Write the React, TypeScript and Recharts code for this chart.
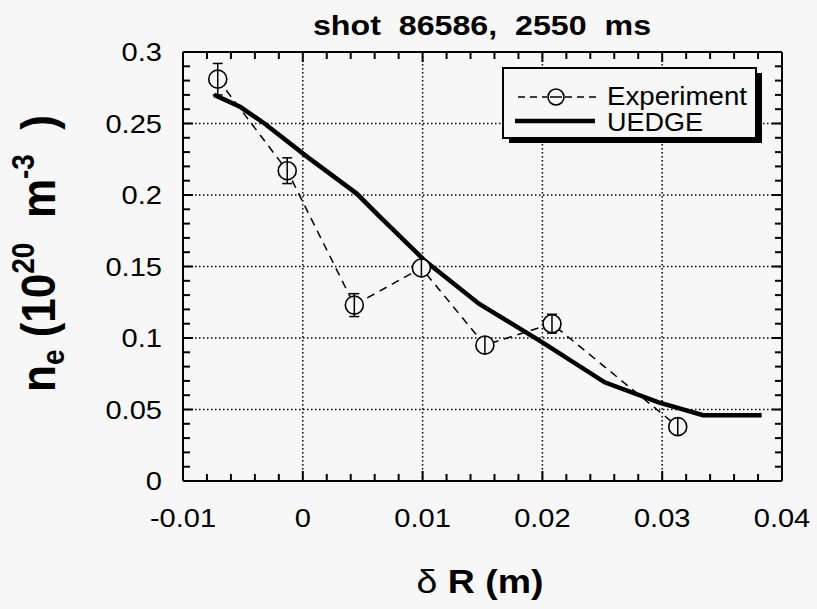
import React from 'react';
import {
  CartesianGrid,
  ErrorBar,
  Legend,
  Line,
  LineChart,
  XAxis,
  YAxis,
} from 'recharts';

const FONT = '"Liberation Sans", Arial, Helvetica, sans-serif';
const BG = '#f7f7f7';
const INK = '#000';

// Experiment (Thomson) points, with error bars
const EXP_X = [-0.0071, -0.0013, 0.0043, 0.0099, 0.0152, 0.0208, 0.0313];
const EXP_Y = [0.281, 0.217, 0.123, 0.149, 0.095, 0.11, 0.038];
const EXP_ERR = [0.011, 0.009, 0.008, 0.005, 0.005, 0.0066, 0.005];

// UEDGE profile
const UEDGE_X = [-0.0074, -0.0052, -0.0032, 0.0004, 0.0045, 0.0064, 0.0102, 0.0147, 0.02, 0.0252, 0.0297, 0.0334, 0.0383];
const UEDGE_Y = [0.27, 0.2615, 0.25, 0.2265, 0.201, 0.185, 0.154, 0.124, 0.097, 0.069, 0.055, 0.046, 0.046];

const SERIES = ['Experiment', 'UEDGE'];

const X_DOMAIN = [-0.01, 0.04];
const Y_DOMAIN = [0, 0.3];
const X_MAJOR = [-0.01, 0, 0.01, 0.02, 0.03, 0.04];
const Y_MAJOR = [0, 0.05, 0.1, 0.15, 0.2, 0.25, 0.3];
const X_STEP = 0.002;
const Y_STEP = 0.01;

const expData = EXP_X.map((x, i) => ({ x, y: EXP_Y[i], err: EXP_ERR[i] }));
const uedgeData = UEDGE_X.map((x, i) => ({ x, y: UEDGE_Y[i] }));

function steps(lo: number, hi: number, step: number) {
  const out: number[] = [];
  const n = Math.round((hi - lo) / step);
  for (let i = 0; i <= n; i++) out.push(Number((lo + i * step).toFixed(4)));
  return out;
}

const X_TICKS = steps(X_DOMAIN[0], X_DOMAIN[1], X_STEP);
const Y_TICKS = steps(Y_DOMAIN[0], Y_DOMAIN[1], Y_STEP);

const isMajor = (v: number, list: number[]) => list.some((m) => Math.abs(m - v) < 1e-7);

const MAJOR_LEN = 10;
const MINOR_LEN = 7;
const TICK_W = 2;

function BottomTick(props: any) {
  const { x, y, payload } = props;
  const major = isMajor(payload.value, X_MAJOR);
  const len = major ? MAJOR_LEN : MINOR_LEN;
  return (
    <g>
      <path d={`M${x},${y}V${y - len}`} stroke={INK} strokeWidth={TICK_W} fill="none" />
      {major && (
        <text
          transform={`translate(${x},${y + 46}) scale(1.14,1)`}
          textAnchor="middle"
          fontSize={25.5}
          fontFamily={FONT}
          fill={INK}
          stroke="none"
        >
          {String(payload.value)}
        </text>
      )}
    </g>
  );
}

function TopTick(props: any) {
  const { x, y, payload } = props;
  const major = isMajor(payload.value, X_MAJOR);
  return <path d={`M${x},${y}V${y + (major ? MAJOR_LEN : MINOR_LEN)}`} stroke={INK} strokeWidth={TICK_W} fill="none" />;
}

function LeftTick(props: any) {
  const { x, y, payload } = props;
  const major = isMajor(payload.value, Y_MAJOR);
  return (
    <g>
      <path d={`M${x},${y}H${x + (major ? MAJOR_LEN : MINOR_LEN)}`} stroke={INK} strokeWidth={TICK_W} fill="none" />
      {major && (
        <text
          transform={`translate(${x - 21},${y + 9}) scale(1.14,1)`}
          textAnchor="end"
          fontSize={25.5}
          fontFamily={FONT}
          fill={INK}
          stroke="none"
        >
          {String(payload.value)}
        </text>
      )}
    </g>
  );
}

function RightTick(props: any) {
  const { x, y, payload } = props;
  const major = isMajor(payload.value, Y_MAJOR);
  return <path d={`M${x},${y}H${x - (major ? MAJOR_LEN : MINOR_LEN)}`} stroke={INK} strokeWidth={TICK_W} fill="none" />;
}

function ExpDot(props: any) {
  const { cx, cy, index } = props;
  if (cx == null || cy == null) return <g key={`d${index}`} />;
  return (
    <g key={`d${index}`}>
      <circle cx={cx} cy={cy} r={9} fill={BG} stroke={INK} strokeWidth={1.6} />
      <line x1={cx} x2={cx} y1={cy - 9} y2={cy + 9} stroke={INK} strokeWidth={1.5} />
    </g>
  );
}

const TitleLabel = () => (
  <text
    transform="translate(482,35) scale(1.15,1)"
    textAnchor="middle"
    fontSize={28}
    fontWeight="bold"
    fontFamily={FONT}
    fill={INK}
    style={{ whiteSpace: 'pre' }}
  >
    {'shot  86586,  2550  ms'}
  </text>
);

const XLabel = () => (
  <text
    transform="translate(480,593) scale(1.1,1)"
    textAnchor="middle"
    fontSize={34}
    fontWeight="bold"
    fontFamily={FONT}
    fill={INK}
  >
    <tspan fontWeight="normal">δ</tspan>
    <tspan> R (m)</tspan>
  </text>
);

const YLabel = () => (
  <text
    transform="translate(55,392) scale(1.1,1) rotate(-90)"
    fontSize={44}
    fontWeight="bold"
    fontFamily={FONT}
    fill={INK}
    style={{ whiteSpace: 'pre' }}
  >
    <tspan>n</tspan>
    <tspan fontSize={28} dy={8}>e</tspan>
    <tspan dy={-8}>{' (10'}</tspan>
    <tspan fontSize={28} dy={-19}>20</tspan>
    <tspan dy={19}>{'  m'}</tspan>
    <tspan fontSize={28} dy={-19}>-3</tspan>
    <tspan dy={19}>{'  )'}</tspan>
  </text>
);

function LegendBox() {
  return (
    <svg width={275} height={90} style={{ display: 'block', overflow: 'visible' }}>
      <g transform="translate(-498,-64)">
        <rect x={509} y={73} width={253} height={70} fill={INK} />
        <rect x={503} y={68} width={253} height={70} fill={BG} stroke={INK} strokeWidth={2} />
        <line x1={518} y1={97} x2={547} y2={97} stroke={INK} strokeWidth={1.5} strokeDasharray="7 5" />
        <line x1={565} y1={97} x2={596} y2={97} stroke={INK} strokeWidth={1.5} strokeDasharray="7 5" />
        <circle cx={556} cy={97} r={8} fill={BG} stroke={INK} strokeWidth={1.6} />
        <line x1={550} y1={97} x2={562} y2={97} stroke={INK} strokeWidth={1.5} />
        <text x={607} y={104.5} fontSize={26} textLength={140} lengthAdjust="spacingAndGlyphs" fontFamily={FONT} fill={INK}>
          {SERIES[0]}
        </text>
        <line x1={515} y1={121} x2={595} y2={121} stroke={INK} strokeWidth={4.5} />
        <text x={607} y={131} fontSize={26} textLength={96} lengthAdjust="spacingAndGlyphs" fontFamily={FONT} fill={INK}>
          {SERIES[1]}
        </text>
      </g>
    </svg>
  );
}

// axis thickness bands: plot area ends up at x 183..782, y 52..481
const AXIS_B = 60;
const AXIS_T = 10;
const AXIS_L = 60;
const AXIS_R = 10;

export default function App() {
  return (
    <div style={{ position: 'absolute', left: 0, top: 0, width: 817, height: 609, background: BG }}>
      <LineChart
        width={817}
        height={609}
        margin={{ top: 52 - AXIS_T, right: 35 - AXIS_R, bottom: 128 - AXIS_B, left: 183 - AXIS_L }}
      >
        <CartesianGrid
          xAxisId="b"
          yAxisId="l"
          verticalValues={[0, 0.01, 0.02, 0.03]}
          horizontalValues={[0.05, 0.1, 0.15, 0.2, 0.25]}
          stroke={INK}
          strokeWidth={1.5}
          strokeDasharray="1.5 2.5"
        />
        <XAxis
          xAxisId="b"
          type="number"
          dataKey="x"
          orientation="bottom"
          domain={X_DOMAIN}
          ticks={X_TICKS}
          interval={0}
          allowDataOverflow
          height={AXIS_B}
          tickSize={0}
          tickMargin={0}
          tickLine={false}
          axisLine={{ stroke: INK, strokeWidth: 2 }}
          tick={BottomTick}
          label={{ content: XLabel }}
        />
        <XAxis
          xAxisId="t"
          type="number"
          dataKey="x"
          orientation="top"
          domain={X_DOMAIN}
          ticks={X_TICKS}
          interval={0}
          allowDataOverflow
          height={AXIS_T}
          tickSize={0}
          tickMargin={0}
          tickLine={false}
          axisLine={{ stroke: INK, strokeWidth: 2 }}
          tick={TopTick}
          label={{ content: TitleLabel }}
        />
        <YAxis
          yAxisId="l"
          type="number"
          orientation="left"
          domain={Y_DOMAIN}
          ticks={Y_TICKS}
          interval={0}
          allowDataOverflow
          width={AXIS_L}
          tickSize={0}
          tickMargin={0}
          tickLine={false}
          axisLine={{ stroke: INK, strokeWidth: 2 }}
          tick={LeftTick}
          label={{ content: YLabel }}
        />
        <YAxis
          yAxisId="r"
          type="number"
          orientation="right"
          domain={Y_DOMAIN}
          ticks={Y_TICKS}
          interval={0}
          allowDataOverflow
          width={AXIS_R}
          tickSize={0}
          tickMargin={0}
          tickLine={false}
          axisLine={{ stroke: INK, strokeWidth: 2 }}
          tick={RightTick}
        />
        <Legend
          layout="horizontal"
          align="center"
          verticalAlign="middle"
          content={LegendBox}
          wrapperStyle={{ position: 'absolute', left: 498, top: 64, width: 275, height: 90 }}
        />
        <Line
          xAxisId="b"
          yAxisId="l"
          name={SERIES[0]}
          data={expData}
          dataKey="y"
          type="linear"
          stroke={INK}
          strokeWidth={1.5}
          strokeDasharray="8 6"
          dot={ExpDot}
          activeDot={false}
          isAnimationActive={false}
        >
          <ErrorBar dataKey="err" direction="y" width={5} stroke={INK} strokeWidth={1.5} isAnimationActive={false} />
        </Line>
        <Line
          xAxisId="b"
          yAxisId="l"
          name={SERIES[1]}
          data={uedgeData}
          dataKey="y"
          type="linear"
          stroke={INK}
          strokeWidth={4.5}
          dot={false}
          activeDot={false}
          isAnimationActive={false}
        />
      </LineChart>
    </div>
  );
}
